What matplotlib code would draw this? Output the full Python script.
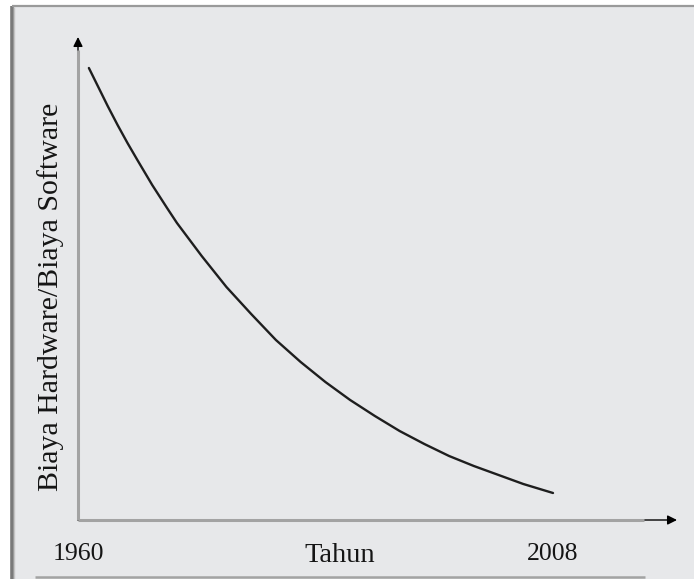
import matplotlib
matplotlib.use("Agg")
import matplotlib.pyplot as plt

# values (ratio in arbitrary units)
years = [1961.1, 1962, 1963, 1964, 1965, 1966, 1967.5, 1969, 1970, 1972.5, 1975, 1977.5,
         1980, 1982.5, 1985, 1987.5, 1990, 1992.5, 1995, 1997.5, 2000, 2002.5, 2005, 2008]
ratio = [4.52, 4.34, 4.14, 3.95, 3.77, 3.60, 3.35, 3.12, 2.97, 2.64, 2.33, 2.06,
         1.80, 1.58, 1.38, 1.20, 1.04, 0.89, 0.76, 0.64, 0.54, 0.45, 0.36, 0.27]
tick_years = [1960, 2008]
x_label = "Tahun"
y_label = "Biaya Hardware/Biaya Software"

W, H = 694, 579
bg = "#e7e8ea"
axis_grey = "#a3a3a3"
serif = ["Liberation Serif", "DejaVu Serif"]

fig = plt.figure(figsize=(W / 100, H / 100), dpi=100)
fig.patch.set_facecolor("white")

# frame drawn in pixel coordinates
frame = fig.add_axes([0, 0, 1, 1])
frame.set_xlim(0, W)
frame.set_ylim(H, 0)
frame.axis("off")
frame.add_patch(plt.Rectangle((12, 6), W - 12, H - 6, facecolor=bg, edgecolor="none"))
frame.plot([12.5, 12.5], [6, H], color="#7a7a7a", lw=2.6, solid_capstyle="butt")
frame.plot([14.5, 14.5], [7, H], color="#c4c4c4", lw=1.0, solid_capstyle="butt")
frame.plot([12, W], [6.2, 6.2], color="#9a9a9a", lw=1.6, solid_capstyle="butt")
frame.plot([35, 645], [577, 577], color=axis_grey, lw=1.8, solid_capstyle="butt")

# data axes: origin at (78, 520), arrow tips at x=677 and y=37
x0, y0, x1, y1 = 78, 520, 677, 37
px_per_year = (553 - 78) / 48
ax = fig.add_axes([x0 / W, (H - y0) / H, (x1 - x0) / W, (y0 - y1) / H])
ax.set_facecolor("none")
ax.set_xlim(1960, 1960 + (x1 - x0) / px_per_year)
ax.set_ylim(0, (y0 - y1) / 100)
for s in ax.spines.values():
    s.set_visible(False)
ax.set_xticks([])
ax.set_yticks([])

# axis arrows: thin black arrow with a wider grey shaft over most of it
arrow = dict(arrowstyle="-|>", color="black", lw=1.0, mutation_scale=14, shrinkA=0, shrinkB=0)
ax.annotate("", xy=(1, 0), xytext=(0, 0), xycoords="axes fraction", arrowprops=arrow)
ax.annotate("", xy=(0, 1), xytext=(0, 0), xycoords="axes fraction", arrowprops=arrow)
ax.plot([0, (644 - x0) / (x1 - x0)], [0, 0], transform=ax.transAxes, color=axis_grey,
        lw=2.2, solid_capstyle="butt", clip_on=False, zorder=5)
ax.plot([0, 0], [0, (y0 - 50) / (y0 - y1)], transform=ax.transAxes, color=axis_grey,
        lw=2.2, solid_capstyle="butt", clip_on=False, zorder=5)

ax.plot(years, ratio, color="#1e1e1e", lw=1.7, solid_capstyle="round", clip_on=False)

for yr in tick_years:
    ax.text(yr, -(560 - y0) / (y0 - y1), str(yr), transform=ax.get_xaxis_transform(),
            ha="center", va="baseline", fontsize=18.5, family=serif, color="#151515")

ax.text((340 - x0) / (x1 - x0), -(562 - y0) / (y0 - y1), x_label, transform=ax.transAxes,
        ha="center", va="baseline", fontsize=20.5, family=serif, color="#151515")
ax.text((51 - x0) / (x1 - x0), (y0 - 297) / (y0 - y1), y_label, transform=ax.transAxes,
        ha="center", va="center", rotation=90, fontsize=21.5, family=serif, color="#151515")

fig.savefig("out.png", dpi=100, facecolor=fig.get_facecolor())
